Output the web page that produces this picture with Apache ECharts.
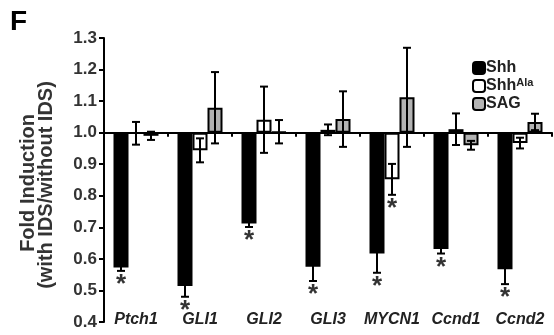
<!DOCTYPE html>
<html>
<head>
<meta charset="utf-8">
<script src="https://cdn.jsdelivr.net/npm/echarts@6/dist/echarts.min.js"></script>
<style>
html,body{margin:0;padding:0;background:#fff;}
#chart{width:554px;height:335px;}
</style>
</head>
<body>
<div id="chart"></div>
<script>
var categories = ['Ptch1','GLI1','GLI2','GLI3','MYCN1','Ccnd1','Ccnd2'];
var yTicks = [0.4,0.5,0.6,0.7,0.8,0.9,1.0,1.1,1.2,1.3];
var shh      = [0.573, 0.514, 0.712, 0.575, 0.617, 0.631, 0.567];
var shhErr   = [0.011, 0.034, 0.011, 0.045, 0.061, 0.014, 0.047];
var shhAla   = [0.998, 0.944, 1.041, 1.009, 0.852, 1.011, 0.967];
var shhAlaErr= [0.036, 0.038, 0.105, 0.017, 0.049, 0.050, 0.017];
var sag      = [0.990, 1.079, 1.003, 1.043, 1.112, 0.960, 1.034];
var sagErr   = [0.013, 0.113, 0.037, 0.088, 0.157, 0.014, 0.026];
var sigShh    = ['*','*','*','*','*','*','*'];
var sigShhAla = ['','','','','*','',''];
var sigSag    = ['','','','','','',''];

var BASE = 1.0;
var BAR_W = 15;
var FONT = '"Liberation Sans", Arial, sans-serif';

var chart = echarts.init(document.getElementById('chart'), null, {renderer:'canvas'});

var errData = [];
[[shh,shhErr,sigShh],[shhAla,shhAlaErr,sigShhAla],[sag,sagErr,sigSag]].forEach(function(g, s){
  for (var i=0;i<categories.length;i++){
    errData.push([i, s, g[0][i]-BASE, g[1][i], g[2][i]]);
  }
});

function renderErr(params, api){
  var i = api.value(0), s = api.value(1), d = api.value(2), e = api.value(3);
  var sig = errData[params.dataIndex][4];
  var off = (s-1)*BAR_W;
  var top = api.coord([i, d+e]);
  var bot = api.coord([i, d-e]);
  var x = top[0] + off;
  var cap = 4;
  var st = {stroke:'#000', lineWidth:2};
  var children = [
    {type:'line', shape:{x1:x,y1:top[1],x2:x,y2:bot[1]}, style:st},
    {type:'line', shape:{x1:x-cap,y1:top[1],x2:x+cap,y2:top[1]}, style:st},
    {type:'line', shape:{x1:x-cap,y1:bot[1],x2:x+cap,y2:bot[1]}, style:st}
  ];
  if (sig) {
    children.push({type:'text', style:{text:sig, x:x, y:bot[1]+1, align:'center', verticalAlign:'top',
      font:'bold 26px ' + FONT, fill:'#333'}});
  }
  return {type:'group', children:children};
}

var option = {
  animation:false,
  grid:{left:104, right:2, top:38, bottom:13, containLabel:false},
  legend:{
    orient:'vertical', left:467, top:54, itemWidth:12, itemHeight:12, itemGap:0,
    textStyle:{fontFamily:FONT, fontWeight:'bold', fontSize:16, lineHeight:18, color:'#222', padding:[0,0,0,-4],
      rich:{sup:{fontFamily:FONT, fontWeight:'bold', fontSize:11, lineHeight:18, color:'#222', verticalAlign:'top', padding:[0,0,7,0]}}},
    formatter:function(n){ return n==='ShhAla' ? 'Shh{sup|Ala}' : n; },
    data:[
      {name:'Shh', itemStyle:{color:'#000', borderColor:'#000', borderWidth:2}},
      {name:'ShhAla', itemStyle:{color:'#fff', borderColor:'#000', borderWidth:2}},
      {name:'SAG', itemStyle:{color:'#b3b3b3', borderColor:'#000', borderWidth:2}}
    ]
  },
  xAxis:[
    {type:'category', data:categories, position:'bottom',
     axisLine:{onZero:true, lineStyle:{color:'#000', width:2}},
     axisTick:{show:true, length:4, interval:0, lineStyle:{color:'#000', width:2}},
     axisLabel:{show:false}, splitLine:{show:false}},
    {type:'category', data:categories, position:'bottom',
     axisLine:{show:false, onZero:false}, axisTick:{show:false},
     axisLabel:{show:true, interval:0, margin:-10, fontFamily:FONT, fontWeight:'bold', fontStyle:'italic', fontSize:16, color:'#222'}}
  ],
  yAxis:{
    type:'value', min:yTicks[0]-BASE, max:yTicks[yTicks.length-1]-BASE, interval:0.1,
    axisLine:{show:true, lineStyle:{color:'#000', width:2}},
    axisTick:{show:true, length:5, lineStyle:{color:'#000', width:2}},
    splitLine:{show:false},
    axisLabel:{margin:7, fontFamily:FONT, fontWeight:'bold', fontSize:17, color:'#333',
      formatter:function(v){ return (v+BASE).toFixed(1); }}
  },
  graphic:[
    {type:'text', left:10, top:8, style:{text:'F', font:'bold 28px '+FONT, fill:'#000'}},
    {type:'text', x:28, y:183, rotation:Math.PI/2,
      style:{text:'Fold Induction', font:'bold 20px '+FONT, fill:'#333', align:'center', verticalAlign:'middle'}},
    {type:'text', x:46, y:185, rotation:Math.PI/2,
      style:{text:'(with IDS/without IDS)', font:'bold 20px '+FONT, fill:'#333', align:'center', verticalAlign:'middle'}}
  ],
  series:[
    {name:'Shh', type:'bar', xAxisIndex:0, barWidth:BAR_W, barGap:'0%',
     data:shh.map(function(v){return v-BASE;}),
     itemStyle:{color:'#000', borderColor:'#000', borderWidth:2}},
    {name:'ShhAla', type:'bar', xAxisIndex:0, barWidth:BAR_W, barGap:'0%',
     data:shhAla.map(function(v){return v-BASE;}),
     itemStyle:{color:'#fff', borderColor:'#000', borderWidth:2}},
    {name:'SAG', type:'bar', xAxisIndex:0, barWidth:BAR_W, barGap:'0%',
     data:sag.map(function(v){return v-BASE;}),
     itemStyle:{color:'#b3b3b3', borderColor:'#000', borderWidth:2}},
    {name:'err', type:'custom', xAxisIndex:0, renderItem:renderErr, data:errData,
     encode:{x:0, y:2}, z:5, clip:false}
  ]
};
chart.setOption(option);
</script>
</body>
</html>
